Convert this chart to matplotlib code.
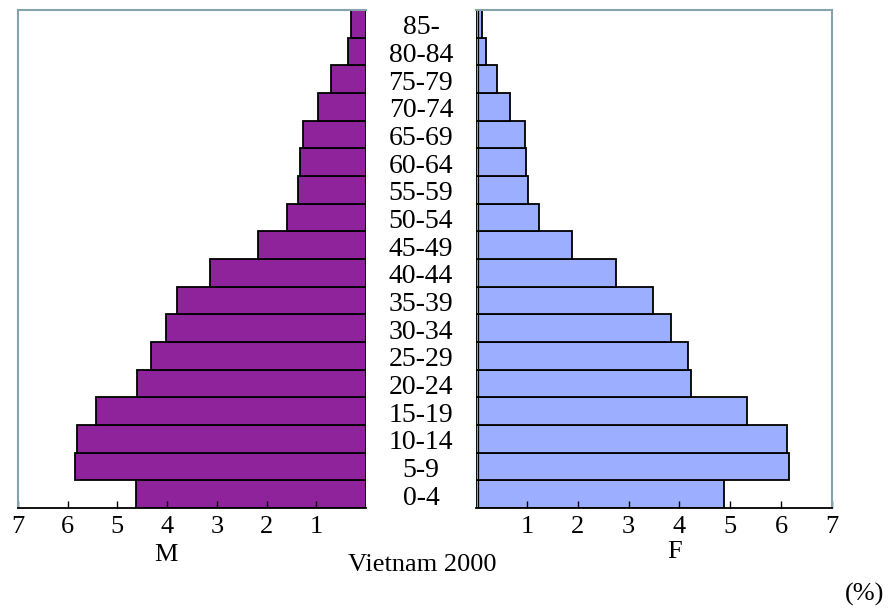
import matplotlib.pyplot as plt
import matplotlib.transforms as mtrans

# Age groups, bottom to top
ages = ["0-4", "5-9", "10-14", "15-19", "20-24", "25-29", "30-34", "35-39", "40-44",
        "45-49", "50-54", "55-59", "60-64", "65-69", "70-74", "75-79", "80-84", "85-"]
# percent of population, male / female
male = [4.62, 5.86, 5.82, 5.43, 4.61, 4.32, 4.02, 3.80, 3.14,
        2.18, 1.59, 1.36, 1.33, 1.26, 0.96, 0.71, 0.37, 0.30]
female = [4.88, 6.15, 6.12, 5.32, 4.23, 4.17, 3.84, 3.48, 2.76,
          1.89, 1.24, 1.03, 0.99, 0.96, 0.67, 0.42, 0.20, 0.12]
ticks = [1, 2, 3, 4, 5, 6, 7]

plt.rcParams['font.family'] = ['Liberation Serif', 'DejaVu Serif']

fig = plt.figure(figsize=(8.95, 6.1), dpi=100)
W, H = 895, 610
axL = fig.add_axes([18 / W, (H - 508) / H, 348 / W, 498 / H])
axR = fig.add_axes([476 / W, (H - 508) / H, 356 / W, 498 / H])

spine_col = "#86a2aa"
pos = list(range(len(ages)))

axL.barh(pos, male, height=1.0, color="#8e239c", edgecolor="black", linewidth=1.3)
axR.barh(pos, female, height=1.0, color="#9baeff", edgecolor="black", linewidth=1.3)
axR.axvline(0.04, color="black", linewidth=0.9)

axL.set_xlim(7, 0)
axR.set_xlim(0, 7)
for ax in (axL, axR):
    ax.set_ylim(-0.5, len(ages) - 0.5)
    ax.set_yticks([])
    ax.set_xticks(ticks)
    ax.set_xticklabels([str(t) for t in ticks])
    ax.tick_params(axis="x", direction="in", length=5, width=1, labelsize=19, pad=6)
    ax.spines["bottom"].set_color("black")
    ax.spines["bottom"].set_linewidth(1.3)
    ax.spines["top"].set_color(spine_col)
    ax.spines["top"].set_linewidth(1.5)

axL.spines["right"].set_visible(False)
axL.spines["left"].set_color(spine_col)
axL.spines["left"].set_linewidth(1.5)
axR.spines["left"].set_visible(False)
axR.spines["right"].set_color(spine_col)
axR.spines["right"].set_linewidth(1.5)

# age labels between the two halves (sit a little below the bar centres)
tr = mtrans.blended_transform_factory(fig.transFigure, axL.transData)
tr = tr + mtrans.ScaledTranslation(0, -4 / 100, fig.dpi_scale_trans)
for p, a in zip(pos, ages):
    fig.text(421 / W, p, a, transform=tr, ha="center", va="center", fontsize=20)

fig.text(166 / W, 1 - 555 / H, "M", ha="center", va="center", fontsize=19)
fig.text(675 / W, 1 - 552 / H, "F", ha="center", va="center", fontsize=19)
fig.text(422 / W, 1 - 565 / H, "Vietnam 2000", ha="center", va="center", fontsize=19)
fig.text(865 / W, 1 - 594 / H, "(%)", ha="center", va="center", fontsize=19)

fig.savefig("out.png", dpi=100)
